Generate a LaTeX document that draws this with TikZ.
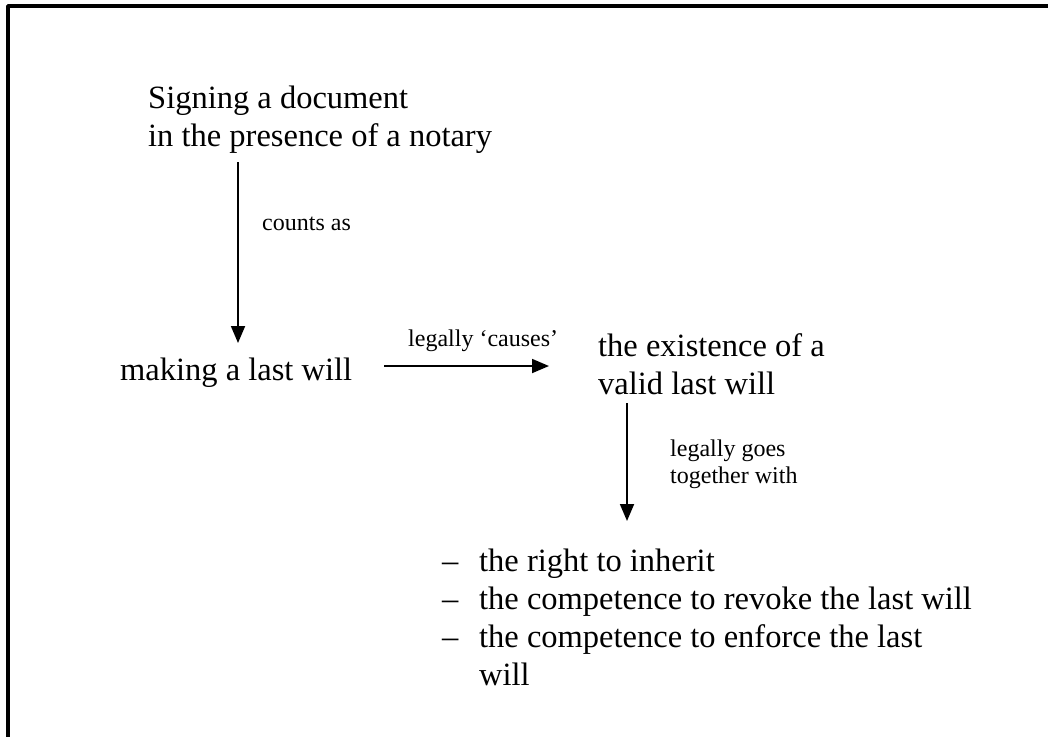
\documentclass[tikz,border=0pt]{standalone}
\usepackage{fontspec}
\setmainfont{Liberation Serif}
\usetikzlibrary{arrows.meta}
\begin{document}
\begin{tikzpicture}[x=1pt,y=-1pt,line join=round,
	big/.style={font=\fontsize{32.5}{38}\selectfont,inner sep=0pt,align=left,anchor=base west},
	small/.style={font=\fontsize{24}{27}\selectfont,inner sep=0pt,align=left,anchor=base west},
	arr/.style={line width=1.8pt,-{Triangle[length=17pt,width=14pt]}}]
	\useasboundingbox (0,0) rectangle (1048,736);
	\draw[line width=3.5pt] (8,740)--(8,6)--(1052,6);
	% base west = baseline of the last line
	\node[big] (sign) at (148,146) {Signing a document\\in the presence of a notary};
	\node[big] (make) at (120,380) {making a last will};
	\node[big] (exist) at (598,394) {the existence of a\\valid last will};
	\node[big] (list) at (442,685) {\makebox[37pt][l]{--}the right to inherit\\
		\makebox[37pt][l]{--}the competence to revoke the last will\\
		\makebox[37pt][l]{--}the competence to enforce the last\\
		\hspace*{37pt}will};
	\coordinate (a1) at (238,162);
	\coordinate (b1) at (238,343);
	\coordinate (a2) at (384,366);
	\coordinate (b2) at (549,366);
	\coordinate (a3) at (627,403);
	\coordinate (b3) at (627,521);
	\draw[arr] (a1)--(b1);
	\draw[arr] (a2)--(b2);
	\draw[arr] (a3)--(b3);
	\node[small] (counts) at (262,230) {counts as};
	\node[small] (causes) at (408,346) {legally `causes'};
	\node[small] (goes) at (670,483) {legally goes\\together with};
\end{tikzpicture}
\end{document}
